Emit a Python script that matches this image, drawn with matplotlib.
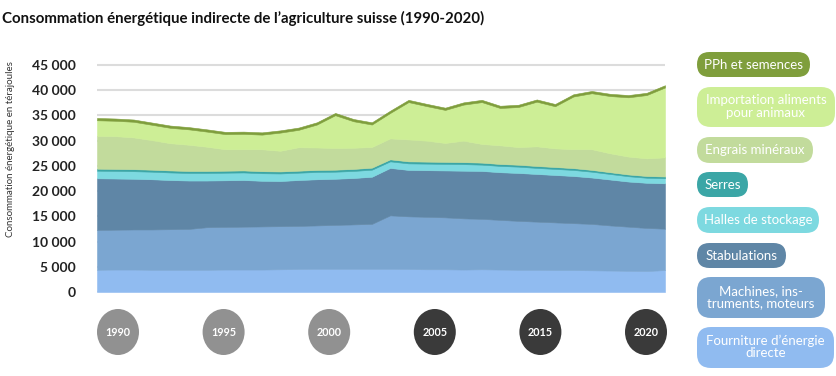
import matplotlib
matplotlib.use("Agg")
import matplotlib.pyplot as plt
from matplotlib.patches import FancyBboxPatch, Ellipse
from matplotlib.ticker import FuncFormatter

plt.rcParams['font.family'] = ['Lato', 'DejaVu Sans']

title = "Consommation énergétique indirecte de l’agriculture suisse (1990-2020)"
ylabel = "Consommation énergétique en térajoules"

years = list(range(1990, 2022))

fourniture = [4400, 4450, 4450, 4400, 4400, 4400, 4400, 4450, 4450, 4450, 4500, 4550, 4600, 4600, 4600, 4600,
              4600, 4550, 4500, 4500, 4450, 4500, 4450, 4400, 4400, 4350, 4350, 4300, 4250, 4200, 4150, 4350]
machines = [7900, 7900, 7950, 8000, 8050, 8100, 8450, 8450, 8500, 8550, 8550, 8550, 8600, 8700, 8800, 8900,
            10600, 10450, 10400, 10300, 10150, 10000, 9850, 9700, 9550, 9450, 9300, 9200, 8950, 8750, 8550, 8200]
stabulations = [10250, 10150, 10050, 9950, 9750, 9600, 9250, 9250, 9250, 9050, 8950, 9100, 9150, 9150, 9200, 9350,
                9400, 9200, 9250, 9300, 9450, 9500, 9450, 9500, 9450, 9400, 9350, 9200, 9100, 8950, 8950, 9000]
halles = [1500, 1500, 1500, 1500, 1500, 1500, 1500, 1500, 1500, 1500, 1500, 1450, 1450, 1400, 1400, 1400,
          1300, 1300, 1300, 1300, 1300, 1250, 1250, 1250, 1200, 1200, 1200, 1150, 1100, 1050, 1000, 1000]
serres = [400, 400, 400, 400, 400, 400, 400, 400, 400, 400, 400, 400, 400, 400, 400, 400,
          400, 400, 400, 400, 400, 400, 380, 380, 380, 380, 360, 360, 350, 350, 350, 350]
engrais = [6500, 6500, 6300, 5850, 5400, 5200, 4800, 4250, 4200, 4350, 4100, 4650, 4450, 4300, 4200, 4100,
           4150, 4350, 4150, 3750, 4250, 3700, 3700, 3500, 3900, 3700, 3750, 4100, 3750, 3550, 3500, 3800]
importation = [3100, 3050, 3100, 3050, 3050, 3050, 3000, 3000, 3050, 2900, 3600, 3450, 4550, 6500, 5250, 4450,
               5050, 7400, 6850, 6550, 7150, 8300, 7400, 7950, 8850, 8350, 10450, 11100, 11350, 11750, 12550, 13850]
pph = [450, 450, 450, 450, 450, 450, 450, 450, 450, 450, 450, 450, 450, 450, 450, 450,
       450, 450, 450, 450, 450, 450, 450, 450, 450, 450, 450, 450, 450, 450, 450, 450]

series_labels = ["Fourniture d’énergie\ndirecte", "Machines, ins-\ntruments, moteurs", "Stabulations",
                 "Halles de stockage", "Serres", "Engrais minéraux", "Importation aliments\npour animaux",
                 "PPh et semences"]
colors = ["#90bbf0", "#7ba6d1", "#5f86a6", "#7dd9e0", "#3ba6a6", "#c2db9c", "#cdee96", "#7f9e3c"]

circle_years = ["1990", "1995", "2000", "2005", "2015", "2020"]
circle_colors = ["#919191", "#919191", "#919191", "#3a3a3a", "#3a3a3a", "#3a3a3a"]

W, H = 836, 376
fig = plt.figure(figsize=(W / 100, H / 100), dpi=100)
fig.patch.set_facecolor("white")

ax = fig.add_axes([97 / W, 1 - 292 / H, 568 / W, 232 / H])
polys = ax.stackplot(years, [fourniture, machines, stabulations, halles, serres, engrais, importation, pph],
                     colors=colors, linewidth=0)
for p, c in zip(polys, colors):
    p.set_edgecolor(c)
    p.set_linewidth(0.4)
ax.set_xlim(years[0], years[-1])
ax.set_ylim(0, 46000)
ax.set_yticks(range(0, 45001, 5000))
ax.yaxis.set_major_formatter(FuncFormatter(lambda v, p: f"{int(v):,}".replace(",", " ")))
ax.grid(axis='y', color='#dcdcdc', linewidth=1.5)
ax.set_axisbelow(True)
ax.set_xticks([])
for s in ax.spines.values():
    s.set_visible(False)
ax.tick_params(axis='y', length=0, pad=15, labelsize=10)
for lab in ax.get_yticklabels():
    lab.set_color('#222222')
    lab.set_fontweight('bold')

fig.text(2 / W, 1 - 18 / H, title, fontsize=10.8, fontweight='bold', color='#111111', va='center', ha='left')
fig.text(11 / W, 1 - 149 / H, ylabel, fontsize=7, color='#333333', rotation=90, va='center', ha='center')

ov = fig.add_axes([0, 0, 1, 1])
ov.set_xlim(0, W)
ov.set_ylim(H, 0)
ov.axis('off')
ov.patch.set_alpha(0)

# legend pills (top to bottom)
pill_layout = [  # (series index, top, bottom, right)
    (7, 52, 77, 810),
    (6, 87, 127, 835),
    (5, 137, 163, 813),
    (4, 172, 197, 748),
    (3, 207, 233, 819),
    (2, 243, 268, 786),
    (1, 277, 318, 825),
    (0, 327, 368, 834),
]
left = 697
for idx, top, bot, right in pill_layout:
    h = bot - top
    r = min(h / 2, 14)
    box = FancyBboxPatch((left, top), right - left, h,
                         boxstyle=f"round,pad=0,rounding_size={r}",
                         facecolor=colors[idx], edgecolor='none')
    ov.add_patch(box)
    dy = -0.5 if '\n' in series_labels[idx] else 0.5
    ov.text((left + right) / 2, (top + bot) / 2 + dy, series_labels[idx], color='white', fontsize=9.5,
            ha='center', va='center', linespacing=1.05)

# year circles
for k, (yl, cc) in enumerate(zip(circle_years, circle_colors)):
    cx = 118 + 105.6 * k
    ov.add_patch(Ellipse((cx, 332), 42, 46, facecolor=cc, edgecolor='none'))
    ov.text(cx, 332.5, yl, color='white', fontsize=7.8, fontweight='bold', ha='center', va='center')

fig.savefig("out.png", dpi=100)
